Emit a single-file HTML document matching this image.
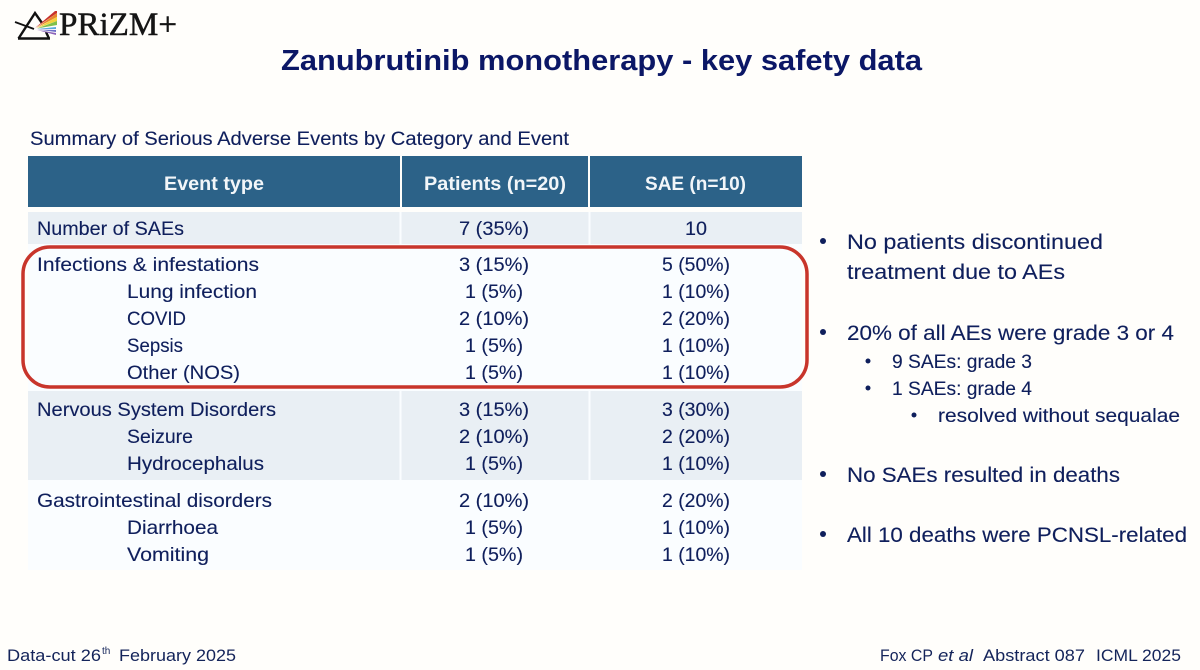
<!DOCTYPE html>
<html lang="en">
<head>
<meta charset="utf-8">
<title>Zanubrutinib monotherapy - key safety data</title>
<style>
html,body{margin:0;padding:0;background:#fffefb;overflow:hidden;}
svg{display:block;filter:blur(0.3px);}
text{font-family:"Liberation Sans",sans-serif;fill:#0f1f5c;font-size:19.5px;stroke:#0f1f5c;stroke-width:0.12px;}
.side{font-size:21px;}
.hd{font-weight:bold;fill:#f2f6f9;stroke:none;font-size:19.5px;}
.foot{font-size:17px;fill:#14245a;stroke:none;}
</style>
</head>
<body>
<svg width="1200" height="670" viewBox="0 0 1200 670" xmlns="http://www.w3.org/2000/svg">
  <rect width="1200" height="670" fill="#fffefb"/>

  <g>
    <path d="M15 22 L34 29" stroke="#111" stroke-width="1.800" fill="none"/>
    <path d="M18.500 38.500 L35 13 L42 23 M46 32 L49 38.500" stroke="#111" stroke-width="2.400" fill="none"/>
    <path d="M18 38.500 H50" stroke="#111" stroke-width="2.400" fill="none"/>
    <path d="M35 28 L55 11 L57 11 L57 13 Z" fill="#c8322b"/>
    <path d="M36 28 L57 13 L57 17 Z" fill="#e8862c"/>
    <path d="M37 28 L57 17 L57 21 Z" fill="#f2d33a"/>
    <path d="M37 28.500 L57 21 L57 25 Z" fill="#7fc04a"/>
    <path d="M37 29 L56 27 L56 29 Z" fill="#5aa9dc"/>
    <path d="M37 29.500 L56 30 L56 32 Z" fill="#6d6fc9"/>
    <path d="M37 30 L56 33 L56 35 Z" fill="#8b62b8"/>
    <text x="59" y="35" textLength="118" lengthAdjust="spacingAndGlyphs" style="font-family:'Liberation Serif',serif;font-size:33px;fill:#151515;stroke:#151515;stroke-width:0.5px">PRiZM+</text>
  </g>

  <text x="281" y="70" textLength="641" lengthAdjust="spacingAndGlyphs" style="font-size:29px;font-weight:bold;fill:#0b1766;stroke:none">Zanubrutinib monotherapy - key safety data</text>

  <text x="30" y="145" textLength="539" lengthAdjust="spacingAndGlyphs" style="font-size:19px">Summary of Serious Adverse Events by Category and Event</text>

  <g>
    <rect x="28" y="212" width="774" height="358" fill="#fafdff"/>
    <rect x="28" y="156" width="372" height="51" fill="#2c6288"/>
    <rect x="402" y="156" width="186" height="51" fill="#2c6288"/>
    <rect x="590" y="156" width="212" height="51" fill="#2c6288"/>
    <rect x="28" y="212" width="371.500" height="32" fill="#e9eff4"/>
    <rect x="401.500" y="212" width="187" height="32" fill="#e9eff4"/>
    <rect x="590.500" y="212" width="211.500" height="32" fill="#e9eff4"/>
    <rect x="28" y="391" width="371.500" height="89" fill="#e9eff4"/>
    <rect x="401.500" y="391" width="187" height="89" fill="#e9eff4"/>
    <rect x="590.500" y="391" width="211.500" height="89" fill="#e9eff4"/>

    <text class="hd" x="164" y="190" textLength="100" lengthAdjust="spacingAndGlyphs">Event type</text>
    <text class="hd" x="424" y="190" textLength="142" lengthAdjust="spacingAndGlyphs">Patients (n=20)</text>
    <text class="hd" x="645" y="190" textLength="101" lengthAdjust="spacingAndGlyphs">SAE (n=10)</text>

    <g>
      <text x="37" y="235" textLength="147" lengthAdjust="spacingAndGlyphs">Number of SAEs</text>
      <text x="459" y="235" textLength="70" lengthAdjust="spacingAndGlyphs">7 (35%)</text>
      <text x="685" y="235" textLength="22" lengthAdjust="spacingAndGlyphs">10</text>
    </g>
    <g>
      <text x="37" y="271" textLength="222" lengthAdjust="spacingAndGlyphs">Infections &amp; infestations</text>
      <text x="459" y="271" textLength="70" lengthAdjust="spacingAndGlyphs">3 (15%)</text>
      <text x="662" y="271" textLength="68" lengthAdjust="spacingAndGlyphs">5 (50%)</text>
    </g>
    <g>
      <text x="127" y="298" textLength="130" lengthAdjust="spacingAndGlyphs">Lung infection</text>
      <text x="465" y="298" textLength="58" lengthAdjust="spacingAndGlyphs">1 (5%)</text>
      <text x="662" y="298" textLength="68" lengthAdjust="spacingAndGlyphs">1 (10%)</text>
    </g>
    <g>
      <text x="127" y="325" textLength="59" lengthAdjust="spacingAndGlyphs">COVID</text>
      <text x="459" y="325" textLength="70" lengthAdjust="spacingAndGlyphs">2 (10%)</text>
      <text x="662" y="325" textLength="68" lengthAdjust="spacingAndGlyphs">2 (20%)</text>
    </g>
    <g>
      <text x="127" y="352" textLength="56" lengthAdjust="spacingAndGlyphs">Sepsis</text>
      <text x="465" y="352" textLength="58" lengthAdjust="spacingAndGlyphs">1 (5%)</text>
      <text x="662" y="352" textLength="68" lengthAdjust="spacingAndGlyphs">1 (10%)</text>
    </g>
    <g>
      <text x="127" y="379" textLength="113" lengthAdjust="spacingAndGlyphs">Other (NOS)</text>
      <text x="465" y="379" textLength="58" lengthAdjust="spacingAndGlyphs">1 (5%)</text>
      <text x="662" y="379" textLength="68" lengthAdjust="spacingAndGlyphs">1 (10%)</text>
    </g>
    <g>
      <text x="37" y="416" textLength="239" lengthAdjust="spacingAndGlyphs">Nervous System Disorders</text>
      <text x="459" y="416" textLength="70" lengthAdjust="spacingAndGlyphs">3 (15%)</text>
      <text x="662" y="416" textLength="68" lengthAdjust="spacingAndGlyphs">3 (30%)</text>
    </g>
    <g>
      <text x="127" y="443" textLength="66" lengthAdjust="spacingAndGlyphs">Seizure</text>
      <text x="459" y="443" textLength="70" lengthAdjust="spacingAndGlyphs">2 (10%)</text>
      <text x="662" y="443" textLength="68" lengthAdjust="spacingAndGlyphs">2 (20%)</text>
    </g>
    <g>
      <text x="127" y="470" textLength="137" lengthAdjust="spacingAndGlyphs">Hydrocephalus</text>
      <text x="465" y="470" textLength="58" lengthAdjust="spacingAndGlyphs">1 (5%)</text>
      <text x="662" y="470" textLength="68" lengthAdjust="spacingAndGlyphs">1 (10%)</text>
    </g>
    <g>
      <text x="37" y="507" textLength="235" lengthAdjust="spacingAndGlyphs">Gastrointestinal disorders</text>
      <text x="459" y="507" textLength="70" lengthAdjust="spacingAndGlyphs">2 (10%)</text>
      <text x="662" y="507" textLength="68" lengthAdjust="spacingAndGlyphs">2 (20%)</text>
    </g>
    <g>
      <text x="127" y="534" textLength="91" lengthAdjust="spacingAndGlyphs">Diarrhoea</text>
      <text x="465" y="534" textLength="58" lengthAdjust="spacingAndGlyphs">1 (5%)</text>
      <text x="662" y="534" textLength="68" lengthAdjust="spacingAndGlyphs">1 (10%)</text>
    </g>
    <g>
      <text x="127" y="561" textLength="82" lengthAdjust="spacingAndGlyphs">Vomiting</text>
      <text x="465" y="561" textLength="58" lengthAdjust="spacingAndGlyphs">1 (5%)</text>
      <text x="662" y="561" textLength="68" lengthAdjust="spacingAndGlyphs">1 (10%)</text>
    </g>
  </g>

  <rect x="23" y="247" width="784" height="140" rx="27" ry="27" fill="none" stroke="#c8352b" stroke-width="3.500"/>

  <g>
    <circle cx="823" cy="241" r="3" fill="#0f1f5c"/>
    <text class="side" x="847" y="249" textLength="256" lengthAdjust="spacingAndGlyphs">No patients discontinued</text>
    <text class="side" x="847" y="279" textLength="218" lengthAdjust="spacingAndGlyphs">treatment due to AEs</text>
    <circle cx="823" cy="332" r="3" fill="#0f1f5c"/>
    <text class="side" x="847" y="340" textLength="327" lengthAdjust="spacingAndGlyphs">20% of all AEs were grade 3 or 4</text>
    <circle cx="868" cy="361" r="2.500" fill="#0f1f5c"/>
    <text x="892" y="368" textLength="140" lengthAdjust="spacingAndGlyphs">9 SAEs: grade 3</text>
    <circle cx="868" cy="388" r="2.500" fill="#0f1f5c"/>
    <text x="892" y="395" textLength="140" lengthAdjust="spacingAndGlyphs">1 SAEs: grade 4</text>
    <circle cx="914" cy="415" r="2.500" fill="#0f1f5c"/>
    <text x="938" y="422" textLength="242" lengthAdjust="spacingAndGlyphs">resolved without sequalae</text>
    <circle cx="823" cy="474" r="3" fill="#0f1f5c"/>
    <text class="side" x="847" y="482" textLength="273" lengthAdjust="spacingAndGlyphs">No SAEs resulted in deaths</text>
    <circle cx="823" cy="534" r="3" fill="#0f1f5c"/>
    <text class="side" x="847" y="542" textLength="340" lengthAdjust="spacingAndGlyphs">All 10 deaths were PCNSL-related</text>
  </g>

  <g>
    <text class="foot" x="7" y="661" textLength="94" lengthAdjust="spacingAndGlyphs">Data-cut 26</text>
    <text class="foot" x="102" y="654" style="font-size:10px">th</text>
    <text class="foot" x="119" y="661" textLength="117" lengthAdjust="spacingAndGlyphs">February 2025</text>
  </g>
  <g>
    <text class="foot" x="880" y="661" textLength="53" lengthAdjust="spacingAndGlyphs">Fox CP</text>
    <text class="foot" x="938" y="661" textLength="35" lengthAdjust="spacingAndGlyphs" style="font-style:italic">et al</text>
    <text class="foot" x="983" y="661" textLength="102" lengthAdjust="spacingAndGlyphs">Abstract 087</text>
    <text class="foot" x="1096" y="661" textLength="85" lengthAdjust="spacingAndGlyphs">ICML 2025</text>
  </g>
</svg>
</body>
</html>
